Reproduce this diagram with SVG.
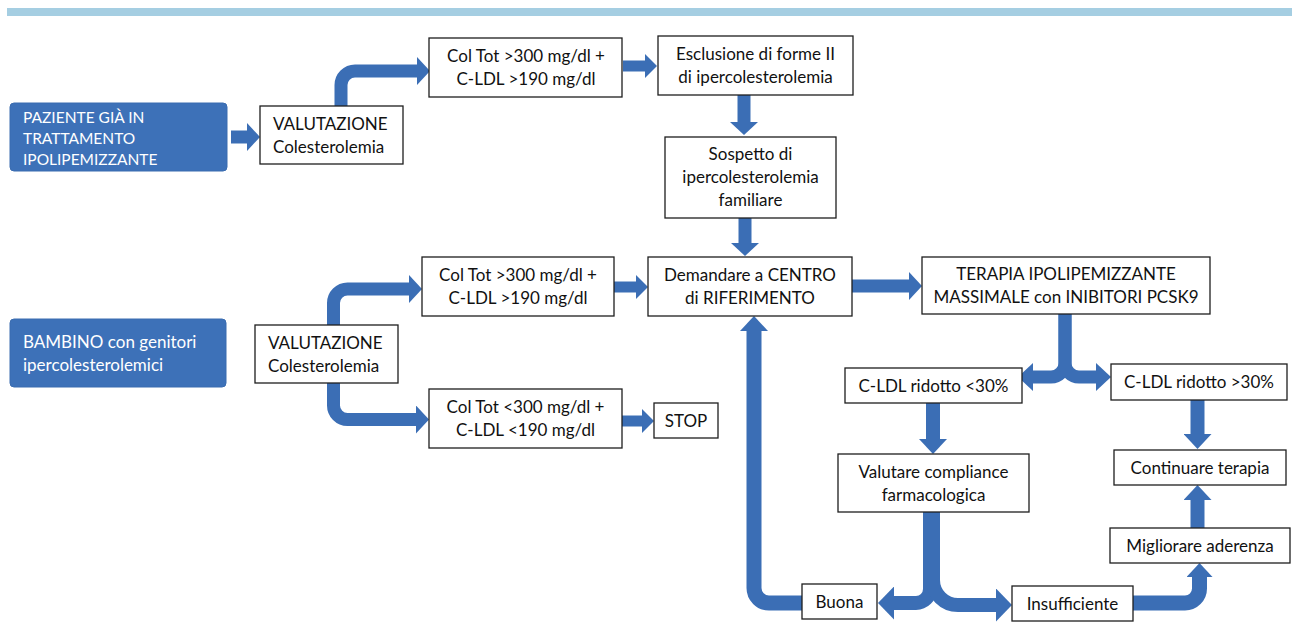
<svg xmlns="http://www.w3.org/2000/svg" width="1292" height="644" viewBox="0 0 1292 644">
<style>
.box{fill:#fff;stroke:#1e1e1e;stroke-width:1.3}
.bl{fill:#3d71b8;stroke:#3a6cb0;stroke-width:1}
.t{font-family:Lato,"Open Sans","Liberation Sans",sans-serif;font-size:17px;fill:#111;text-anchor:middle}
.tl{text-anchor:start}
.tw{fill:#fff;text-anchor:start}
.ts{font-size:15.5px}
.c{fill:none;stroke:#3b6eb5;stroke-linecap:butt;stroke-linejoin:round}
</style>
<defs>
<marker id="hA" markerUnits="userSpaceOnUse" orient="auto" viewBox="0 0 13 28" markerWidth="13" markerHeight="28" refX="0" refY="14"><path d="M0,0L13,14L0,28Z" fill="#3b6eb5"/></marker>
<marker id="hB" markerUnits="userSpaceOnUse" orient="auto" viewBox="0 0 12 24" markerWidth="12" markerHeight="24" refX="0" refY="12"><path d="M0,0L12,12L0,24Z" fill="#3b6eb5"/></marker>
<marker id="hC" markerUnits="userSpaceOnUse" orient="auto" viewBox="0 0 15 28" markerWidth="15" markerHeight="28" refX="0" refY="14"><path d="M0,0L15,14L0,28Z" fill="#3b6eb5"/></marker>
<marker id="hD" markerUnits="userSpaceOnUse" orient="auto" viewBox="0 0 16 33" markerWidth="16" markerHeight="33" refX="0" refY="16.5"><path d="M0,0L16,16.5L0,33Z" fill="#3b6eb5"/></marker>
<marker id="hE" markerUnits="userSpaceOnUse" orient="auto" viewBox="0 0 14 26" markerWidth="14" markerHeight="26" refX="0" refY="13"><path d="M0,0L14,13L0,26Z" fill="#3b6eb5"/></marker>
</defs>
<rect x="7" y="8" width="1285" height="8" fill="#a5cee2"/>
<g id="connectors">
<path class="c" stroke-width="13" d="M231,137H247" marker-end="url(#hA)"/>
<path class="c" stroke-width="13" d="M341,106V85A14,14 0 0 1 355,71H417" marker-end="url(#hA)"/>
<path class="c" stroke-width="11" d="M623,66H645" marker-end="url(#hB)"/>
<path class="c" stroke-width="13" d="M744,95V122" marker-end="url(#hA)"/>
<path class="c" stroke-width="13" d="M745,218V243" marker-end="url(#hA)"/>
<path class="c" stroke-width="13" d="M333.5,325V303A14,14 0 0 1 347.5,289H409" marker-end="url(#hA)"/>
<path class="c" stroke-width="13" d="M333.5,383V405.5A14,14 0 0 0 347.5,419.5H416" marker-end="url(#hA)"/>
<path class="c" stroke-width="11" d="M614,287H636" marker-end="url(#hB)"/>
<path class="c" stroke-width="11" d="M622,421H642" marker-end="url(#hB)"/>
<path class="c" stroke-width="13" d="M852,286H909" marker-end="url(#hA)"/>
<path class="c" stroke-width="13" d="M1065,314V363A14,14 0 0 1 1051,377H1033" marker-end="url(#hC)"/>
<path class="c" stroke-width="13" d="M1065,314V363A14,14 0 0 0 1079,377H1096" marker-end="url(#hC)"/>
<path class="c" stroke-width="14" d="M933,403V439" marker-end="url(#hC)"/>
<path class="c" stroke-width="14" d="M930,512V589A14,14 0 0 1 916,603H894" marker-end="url(#hD)"/>
<path class="c" stroke-width="14" d="M933,512V580A25,25 0 0 0 958,605H996" marker-end="url(#hD)"/>
<path class="c" stroke-width="15" d="M802,603H769A15,15 0 0 1 754,588V331" marker-end="url(#hC)"/>
<path class="c" stroke-width="14" d="M1197.5,399V434" marker-end="url(#hC)"/>
<path class="c" stroke-width="14" d="M1197.5,528V500" marker-end="url(#hC)"/>
<path class="c" stroke-width="15" d="M1133,603H1185A14.5,14.5 0 0 0 1199.5,588.5V577" marker-end="url(#hE)"/>
</g>
<g id="paziente"><rect class="bl" x="10" y="103" width="217" height="68" rx="4"/><text class="t tw ts" x="23" y="123">PAZIENTE GIÀ IN</text><text class="t tw ts" x="23" y="144">TRATTAMENTO</text><text class="t tw ts" x="23" y="165">IPOLIPEMIZZANTE</text></g>
<g id="valutazione1"><rect class="box" x="260" y="106" width="143" height="58"/><text class="t tl" x="273" y="130">VALUTAZIONE</text><text class="t tl" x="273" y="153">Colesterolemia</text></g>
<g id="coltot1"><rect class="box" x="429" y="38" width="193" height="59"/><text class="t" x="526" y="62">Col Tot &gt;300 mg/dl +</text><text class="t" x="526" y="85">C-LDL &gt;190 mg/dl</text></g>
<g id="esclusione"><rect class="box" x="658" y="36" width="195" height="59"/><text class="t" x="755.5" y="60">Esclusione di forme II</text><text class="t" x="755.5" y="83">di ipercolesterolemia</text></g>
<g id="sospetto"><rect class="box" x="665" y="137" width="171" height="81"/><text class="t" x="750.5" y="160">Sospetto di</text><text class="t" x="750.5" y="183">ipercolesterolemia</text><text class="t" x="750.5" y="206">familiare</text></g>
<g id="bambino"><rect class="bl" x="10" y="319" width="216" height="68" rx="4"/><text class="t tw" x="23" y="348">BAMBINO con genitori</text><text class="t tw" x="23" y="371">ipercolesterolemici</text></g>
<g id="valutazione2"><rect class="box" x="255" y="325" width="143" height="58"/><text class="t tl" x="268" y="349">VALUTAZIONE</text><text class="t tl" x="268" y="372">Colesterolemia</text></g>
<g id="coltot2"><rect class="box" x="422" y="257" width="192" height="59"/><text class="t" x="518" y="281">Col Tot &gt;300 mg/dl +</text><text class="t" x="518" y="304">C-LDL &gt;190 mg/dl</text></g>
<g id="coltot3"><rect class="box" x="429" y="389" width="193" height="59"/><text class="t" x="525.5" y="413">Col Tot &lt;300 mg/dl +</text><text class="t" x="525.5" y="436">C-LDL &lt;190 mg/dl</text></g>
<g id="stop"><rect class="box" x="654" y="403" width="64" height="35"/><text class="t" x="686" y="426.5">STOP</text></g>
<g id="demandare"><rect class="box" x="648" y="257" width="204" height="59"/><text class="t" x="750" y="281">Demandare a CENTRO</text><text class="t" x="750" y="304">di RIFERIMENTO</text></g>
<g id="terapia"><rect class="box" x="922" y="257" width="288" height="57"/><text class="t" x="1066" y="280">TERAPIA IPOLIPEMIZZANTE</text><text class="t" x="1066" y="303">MASSIMALE con INIBITORI PCSK9</text></g>
<g id="ridotto-lt30"><rect class="box" x="845" y="368" width="177" height="35"/><text class="t" x="933.5" y="391.5">C-LDL ridotto &lt;30%</text></g>
<g id="ridotto-gt30"><rect class="box" x="1111" y="364" width="176" height="36"/><text class="t" x="1199" y="388">C-LDL ridotto &gt;30%</text></g>
<g id="valutare"><rect class="box" x="838" y="454" width="191" height="58"/><text class="t" x="933.5" y="477.5">Valutare compliance</text><text class="t" x="933.5" y="500.5">farmacologica</text></g>
<g id="continuare"><rect class="box" x="1114" y="450" width="172" height="35"/><text class="t" x="1200" y="473.5">Continuare terapia</text></g>
<g id="migliorare"><rect class="box" x="1110" y="528" width="180" height="35"/><text class="t" x="1200" y="551.5">Migliorare aderenza</text></g>
<g id="buona"><rect class="box" x="802" y="584" width="75" height="35"/><text class="t" x="839.5" y="607.5">Buona</text></g>
<g id="insufficiente"><rect class="box" x="1012" y="586" width="121" height="35"/><text class="t" x="1072.5" y="609.5">Insufficiente</text></g>
</svg>
